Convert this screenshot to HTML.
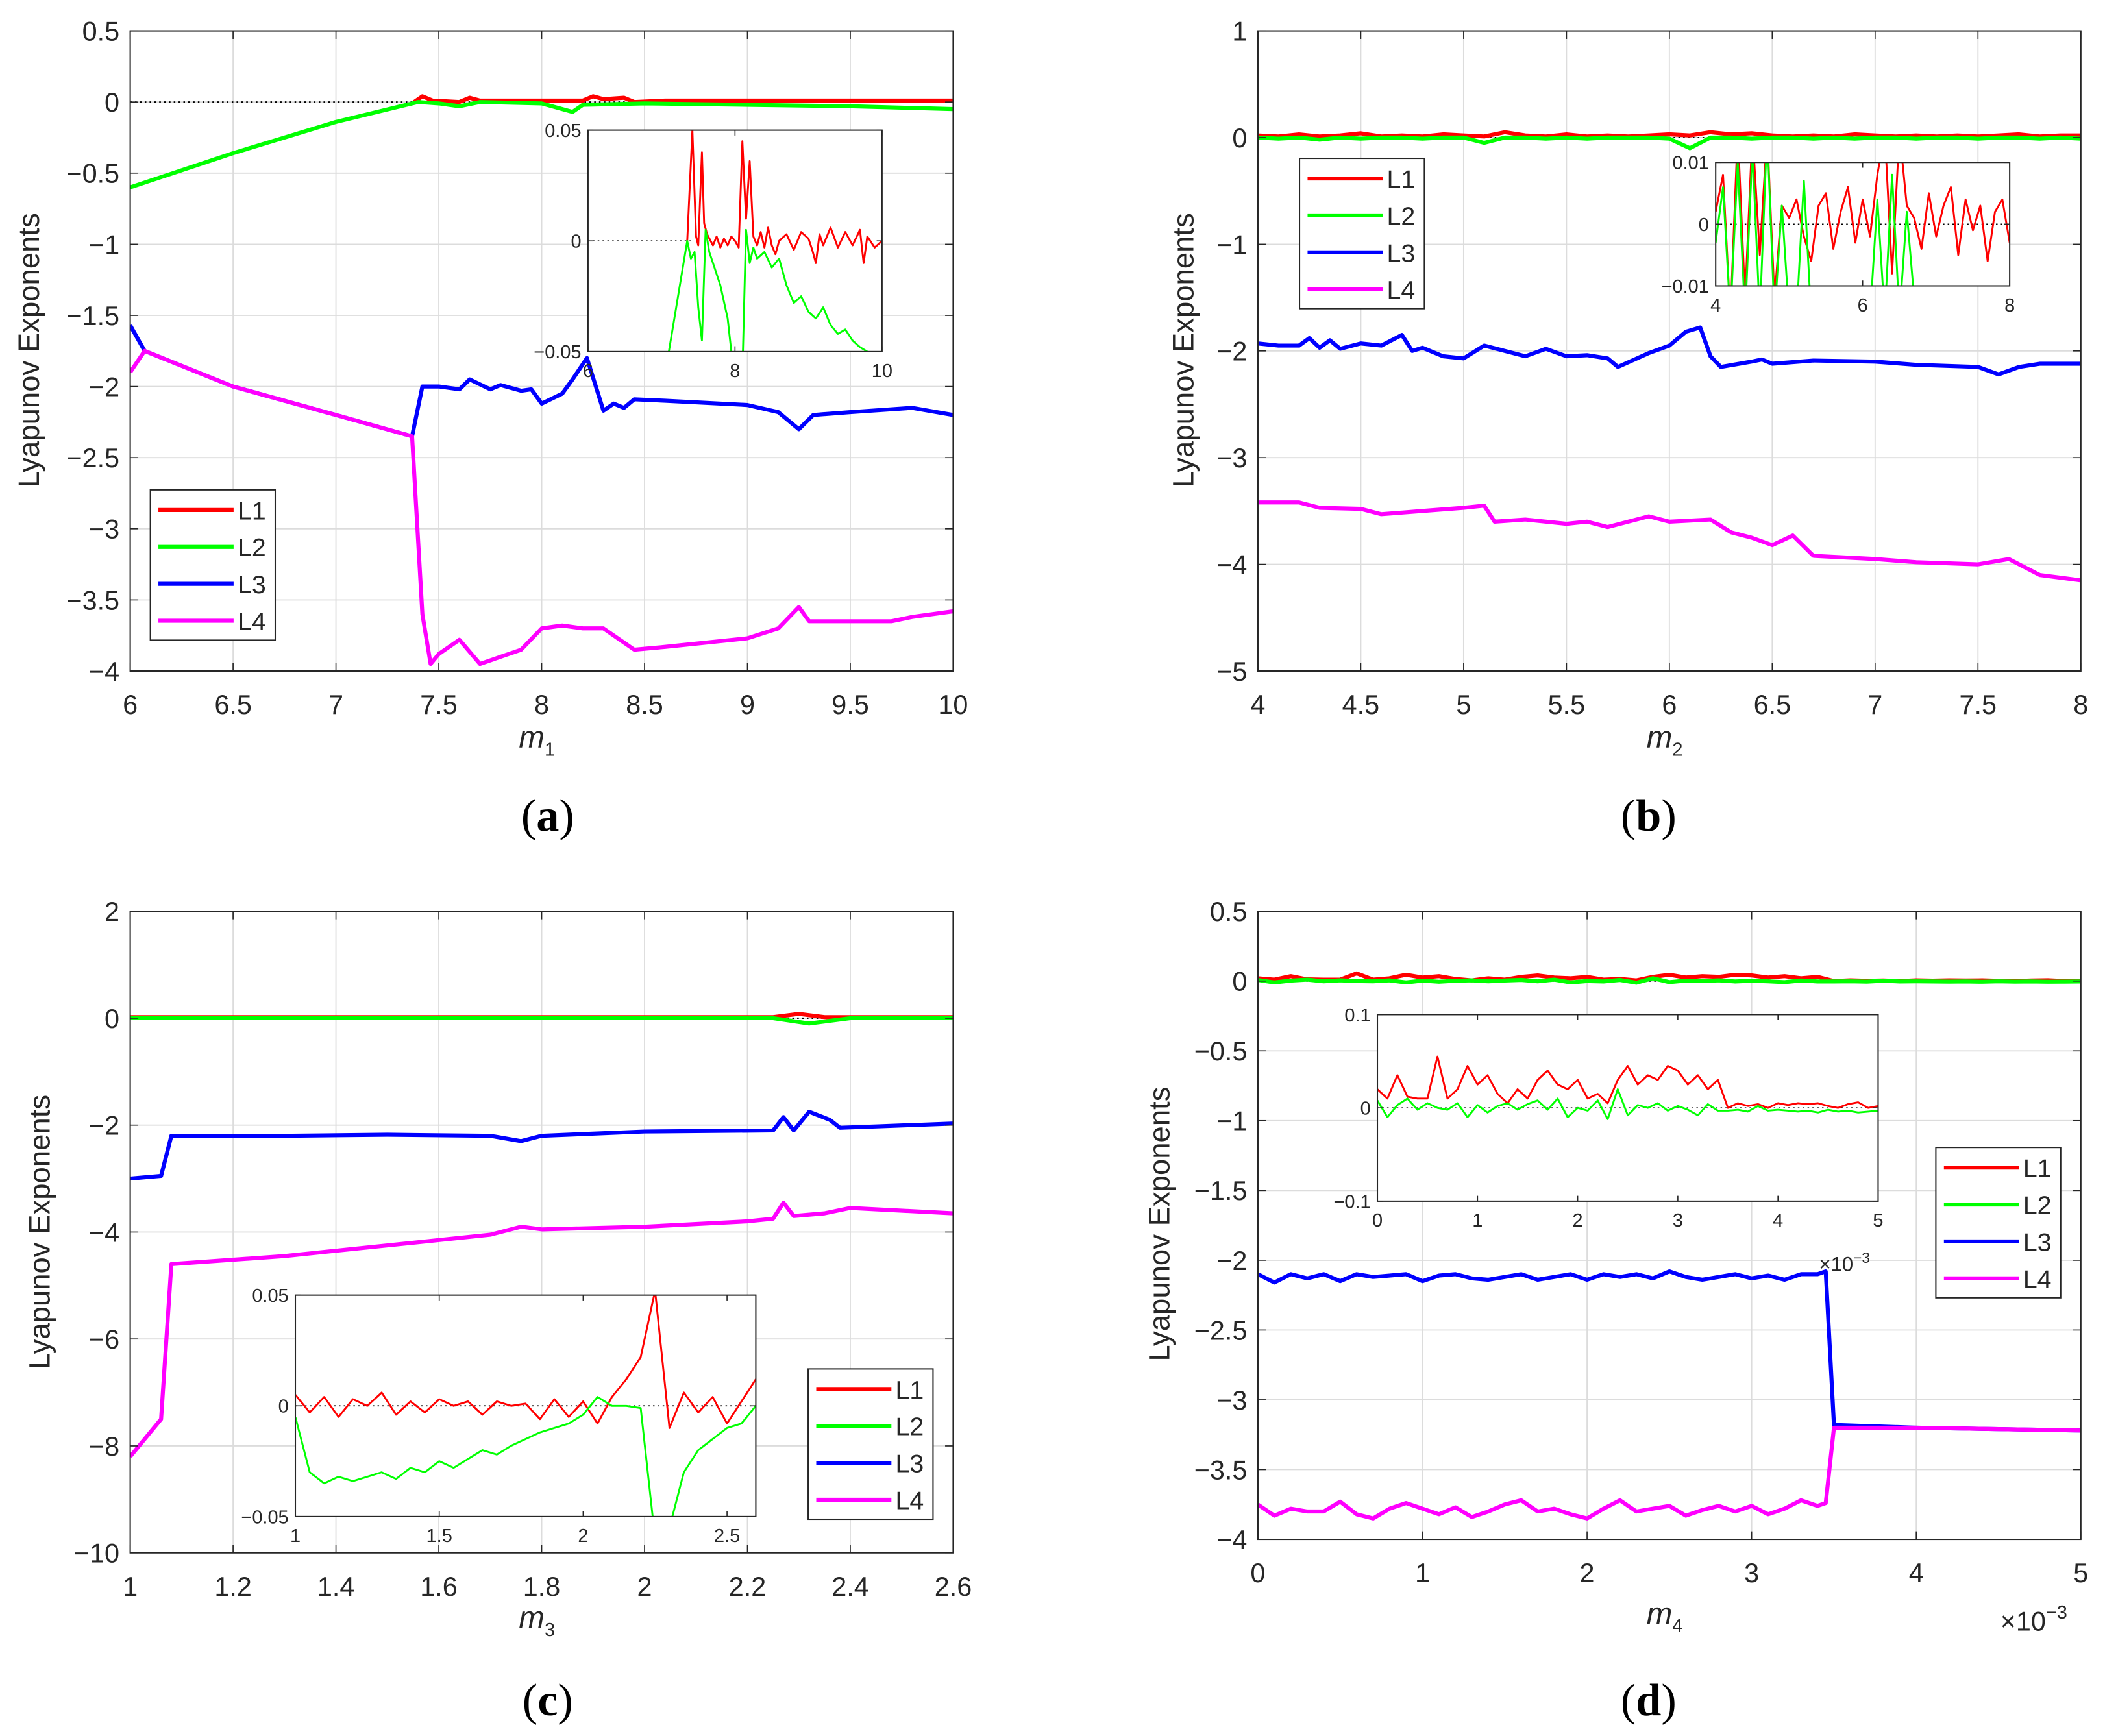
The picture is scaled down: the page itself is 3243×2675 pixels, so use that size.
<!DOCTYPE html>
<html><head><meta charset="utf-8"><style>
html,body{margin:0;padding:0;background:#fff;}
svg{display:block;}
text{font-family:"Liberation Sans",sans-serif;fill:#262626;}
</style></head><body>
<svg id="fig" width="3243" height="2675" viewBox="0 0 1568 1293.5" preserveAspectRatio="none" xmlns="http://www.w3.org/2000/svg"></svg>
<script>
// ---------- Panel (a) data ----------
const a_L1x=[7.38,7.42,7.47,7.6,7.65,7.7,8.0,8.2,8.25,8.3,8.4,8.45,8.6,9.0,10];
const a_L1y=[0,0.04,0.01,0,0.03,0.01,0.01,0.01,0.04,0.02,0.03,0,0.01,0.01,0.01];
const a_L2x=[6,6.5,7,7.4,7.5,7.6,7.7,8.0,8.15,8.2,8.5,9.0,9.5,10];
const a_L2y=[-0.6,-0.36,-0.14,0,-0.01,-0.03,0,-0.01,-0.07,-0.02,-0.01,-0.02,-0.03,-0.05];
const a_L3x=[6,6.07,6.5,7,7.37,7.42,7.5,7.6,7.65,7.75,7.8,7.9,7.95,8.0,8.1,8.15,8.22,8.3,8.35,8.4,8.45,8.6,9.0,9.15,9.25,9.32,9.5,9.8,10];
const a_L3y=[-1.57,-1.75,-2.0,-2.2,-2.35,-2.0,-2.0,-2.02,-1.95,-2.02,-1.99,-2.03,-2.02,-2.12,-2.05,-1.95,-1.8,-2.17,-2.12,-2.15,-2.09,-2.1,-2.13,-2.18,-2.3,-2.2,-2.18,-2.15,-2.2];
const a_L4x=[6,6.07,6.5,7,7.37,7.42,7.46,7.5,7.6,7.7,7.8,7.9,8.0,8.1,8.2,8.3,8.4,8.45,8.6,9.0,9.15,9.25,9.3,9.5,9.7,9.8,10];
const a_L4y=[-1.9,-1.75,-2.0,-2.2,-2.35,-3.6,-3.95,-3.88,-3.78,-3.95,-3.9,-3.85,-3.7,-3.68,-3.7,-3.7,-3.8,-3.85,-3.83,-3.77,-3.7,-3.55,-3.65,-3.65,-3.65,-3.62,-3.58];
const a_in1x=[7.35,7.42,7.47,7.5,7.55,7.58,7.62,7.7,7.75,7.8,7.85,7.9,7.95,8.0,8.05,8.1,8.15,8.2,8.25,8.3,8.35,8.4,8.45,8.5,8.55,8.6,8.7,8.8,8.9,9.0,9.05,9.1,9.15,9.2,9.3,9.4,9.5,9.6,9.7,9.75,9.8,9.9,10];
const a_in1y=[0,0.05,0.002,-0.002,0.04,0.008,0.003,-0.002,0.002,-0.003,0.001,-0.002,0.002,0,-0.003,0.045,0.01,0.036,0.002,-0.002,0.004,-0.003,0.006,-0.002,-0.006,0,0.003,-0.004,0.004,0.001,-0.004,-0.01,0.003,-0.002,0.006,-0.003,0.004,-0.002,0.005,-0.01,0.002,-0.003,0];
const a_in2x=[7.1,7.35,7.4,7.45,7.5,7.55,7.6,7.65,7.7,7.8,7.9,7.95,8.0,8.1,8.15,8.2,8.25,8.3,8.4,8.5,8.6,8.7,8.8,8.9,9.0,9.1,9.2,9.3,9.4,9.5,9.6,9.7,9.8,9.9];
const a_in2y=[-0.05,0,-0.008,-0.005,-0.03,-0.045,0.005,-0.005,-0.01,-0.02,-0.035,-0.05,-0.06,-0.06,0.005,-0.01,-0.003,-0.008,-0.005,-0.012,-0.008,-0.02,-0.028,-0.025,-0.032,-0.035,-0.03,-0.038,-0.042,-0.04,-0.045,-0.048,-0.05,-0.052];
// ---------- Panel (b) data ----------
const b_x=[4.0,4.1,4.2,4.3,4.4,4.5,4.6,4.7,4.8,4.9,5.0,5.1,5.2,5.3,5.4,5.5,5.6,5.7,5.8,5.9,6.0,6.1,6.2,6.3,6.4,6.5,6.6,6.7,6.8,6.9,7.0,7.1,7.2,7.3,7.4,7.5,7.6,7.7,7.8,7.9,8.0];
const b_L1=[0.02,0.01,0.03,0.01,0.02,0.04,0.01,0.02,0.01,0.03,0.02,0.01,0.05,0.02,0.01,0.03,0.01,0.02,0.01,0.02,0.03,0.02,0.05,0.03,0.04,0.02,0.01,0.02,0.01,0.03,0.02,0.01,0.02,0.01,0.02,0.01,0.02,0.03,0.01,0.02,0.02];
const b_L2=[0,-0.01,0,-0.02,0,-0.01,0,0,-0.01,0,0,-0.05,0,0,-0.01,0,-0.01,0,0,0,-0.01,-0.1,0,0,-0.01,0,0,-0.01,0,-0.01,0,0,-0.01,0,0,-0.01,0,0,-0.01,0,-0.01];
const b_L3x=[4,4.1,4.2,4.25,4.3,4.35,4.4,4.5,4.6,4.7,4.75,4.8,4.9,5.0,5.1,5.3,5.4,5.5,5.6,5.7,5.75,5.9,6.0,6.08,6.15,6.2,6.25,6.4,6.45,6.5,6.7,7.0,7.2,7.5,7.6,7.7,7.8,8];
const b_L3y=[-1.93,-1.95,-1.95,-1.88,-1.97,-1.9,-1.98,-1.93,-1.95,-1.85,-2.0,-1.97,-2.05,-2.07,-1.95,-2.05,-1.98,-2.05,-2.04,-2.07,-2.15,-2.02,-1.95,-1.82,-1.78,-2.05,-2.15,-2.1,-2.08,-2.12,-2.09,-2.1,-2.13,-2.15,-2.22,-2.15,-2.12,-2.12];
const b_L4x=[4,4.2,4.3,4.5,4.6,4.8,5.0,5.1,5.15,5.3,5.5,5.6,5.7,5.9,6.0,6.2,6.3,6.4,6.5,6.6,6.7,7.0,7.2,7.5,7.65,7.8,8];
const b_L4y=[-3.42,-3.42,-3.47,-3.48,-3.53,-3.5,-3.47,-3.45,-3.6,-3.58,-3.62,-3.6,-3.65,-3.55,-3.6,-3.58,-3.7,-3.75,-3.82,-3.73,-3.92,-3.95,-3.98,-4.0,-3.95,-4.1,-4.15];
const b_in1=[0.002,0.008,-0.015,0.015,-0.012,0.015,-0.005,0.015,-0.012,0.003,0.001,0.004,-0.002,-0.006,0.003,0.005,-0.004,0.002,0.006,-0.003,0.004,-0.002,0.008,0.015,-0.008,0.015,0.003,0.001,-0.004,0.005,-0.002,0.003,0.006,-0.005,0.004,-0.001,0.003,-0.006,0.002,0.004,-0.003];
const b_in2=[-0.003,0.006,-0.015,0.01,-0.015,0.012,-0.015,0.015,-0.015,0.003,-0.015,-0.015,0.007,-0.015,-0.012,-0.015,-0.015,-0.015,-0.015,-0.015,-0.015,-0.015,0.004,-0.015,0.008,-0.015,0.002,-0.012,-0.015,-0.015,-0.015,-0.015,-0.015,-0.015,-0.015,-0.015,-0.015,-0.015,-0.015,-0.015,-0.015];
// ---------- Panel (c) data ----------
const c_L1x=[1,2.25,2.3,2.35,2.6];
const c_L1y=[0.02,0.02,0.08,0.02,0.02];
const c_L2x=[1,2.25,2.32,2.4,2.6];
const c_L2y=[0,0,-0.1,0,0];
const c_L3x=[1,1.06,1.08,1.3,1.5,1.7,1.76,1.8,2.0,2.25,2.27,2.29,2.32,2.36,2.38,2.6];
const c_L3y=[-3.0,-2.95,-2.2,-2.2,-2.18,-2.2,-2.3,-2.2,-2.12,-2.1,-1.85,-2.1,-1.75,-1.9,-2.05,-1.97];
const c_L4x=[1,1.06,1.08,1.3,1.5,1.7,1.76,1.8,2.0,2.2,2.25,2.27,2.29,2.35,2.4,2.6];
const c_L4y=[-8.2,-7.5,-4.6,-4.45,-4.25,-4.05,-3.9,-3.95,-3.9,-3.8,-3.75,-3.45,-3.7,-3.65,-3.55,-3.65];
const c_inx=[1,1.05,1.1,1.15,1.2,1.25,1.3,1.35,1.4,1.45,1.5,1.55,1.6,1.65,1.7,1.75,1.8,1.85,1.9,1.95,2.0,2.05,2.1,2.15,2.2,2.25,2.3,2.35,2.4,2.45,2.5,2.55,2.6];
const c_in1=[0.005,-0.003,0.004,-0.005,0.003,0,0.006,-0.004,0.002,-0.003,0.003,0,0.002,-0.004,0.002,0,0.001,-0.006,0.003,-0.005,0.002,-0.008,0.004,0.012,0.022,0.052,-0.01,0.006,-0.003,0.004,-0.008,0.002,0.012];
const c_in2=[-0.005,-0.03,-0.035,-0.032,-0.034,-0.032,-0.03,-0.033,-0.028,-0.03,-0.025,-0.028,-0.024,-0.02,-0.022,-0.018,-0.015,-0.012,-0.01,-0.008,-0.004,0.004,0,0,-0.001,-0.06,-0.055,-0.03,-0.02,-0.015,-0.01,-0.008,0];
// ---------- Panel (d) data ----------
const d_x=[0,0.1,0.2,0.3,0.4,0.5,0.6,0.7,0.8,0.9,1.0,1.1,1.2,1.3,1.4,1.5,1.6,1.7,1.8,1.9,2.0,2.1,2.2,2.3,2.4,2.5,2.6,2.7,2.8,2.9,3.0,3.1,3.2,3.3,3.4,3.5,3.6,3.7,3.8,3.9,4.0,4.1,4.2,4.3,4.4,4.5,4.6,4.7,4.8,4.9,5.0];
const d_L1=[0.02,0.01,0.035,0.012,0.01,0.01,0.055,0.01,0.02,0.045,0.025,0.035,0.015,0.005,0.02,0.01,0.03,0.04,0.025,0.02,0.03,0.01,0.015,0.005,0.03,0.045,0.025,0.035,0.03,0.045,0.04,0.025,0.035,0.02,0.03,0.0,0.005,0.002,0.004,0.0,0.005,0.003,0.005,0.004,0.005,0.002,0.0,0.004,0.006,0.0,0.002];
const d_L2=[0.008,-0.01,0.003,0.01,-0.002,0.005,0,-0.002,0.005,-0.01,0.003,-0.005,0.002,0.005,-0.002,0.004,0.008,-0.002,0.01,-0.01,0,-0.003,0.008,-0.012,0.02,-0.008,0.003,0,0.005,-0.003,0.002,-0.002,-0.008,0.004,-0.003,-0.003,-0.002,-0.004,0.002,-0.003,-0.002,-0.003,-0.004,-0.003,-0.005,-0.002,-0.004,-0.003,-0.005,-0.004,-0.003];
const d_Lx=[0,0.1,0.2,0.3,0.4,0.5,0.6,0.7,0.8,0.9,1.0,1.1,1.2,1.3,1.4,1.5,1.6,1.7,1.8,1.9,2.0,2.1,2.2,2.3,2.4,2.5,2.6,2.7,2.8,2.9,3.0,3.1,3.2,3.3,3.4,3.45,3.5,4.0,4.5,5.0];
const d_L3=[-2.1,-2.16,-2.1,-2.13,-2.1,-2.15,-2.1,-2.12,-2.11,-2.1,-2.15,-2.11,-2.1,-2.13,-2.14,-2.12,-2.1,-2.14,-2.12,-2.1,-2.14,-2.1,-2.12,-2.1,-2.13,-2.08,-2.12,-2.14,-2.12,-2.1,-2.13,-2.11,-2.14,-2.1,-2.1,-2.08,-3.18,-3.2,-3.21,-3.22];
const d_L4=[-3.75,-3.83,-3.78,-3.8,-3.8,-3.73,-3.82,-3.85,-3.78,-3.74,-3.78,-3.82,-3.77,-3.84,-3.8,-3.75,-3.72,-3.8,-3.78,-3.82,-3.85,-3.78,-3.72,-3.8,-3.78,-3.76,-3.83,-3.79,-3.76,-3.8,-3.76,-3.82,-3.78,-3.72,-3.76,-3.74,-3.2,-3.2,-3.21,-3.22];

const NS='http://www.w3.org/2000/svg';
const fig=document.getElementById('fig');
const COL={L1:'#ff0000',L2:'#00ff00',L3:'#0000ff',L4:'#ff00ff'};
let clipN=0;
function el(tag,attrs,parent){const e=document.createElementNS(NS,tag);for(const k in attrs)e.setAttribute(k,attrs[k]);(parent||fig).appendChild(e);return e;}
function fmt(v){let s=(Math.round(v*1000)/1000).toString();return v<0?'\u2212'+s.slice(1):s;}
function axes(box,xd,yd){
  return {x:v=>box.l+(v-xd[0])/(xd[1]-xd[0])*(box.r-box.l), y:v=>box.b-(v-yd[0])/(yd[1]-yd[0])*(box.b-box.t)};
}
function series(g,sc,xs,ys,color,w,clipId,name){
  let d='';for(let i=0;i<xs.length;i++)d+=(i?'L':'M')+sc.x(xs[i]).toFixed(2)+' '+sc.y(ys[i]).toFixed(2);
  const p=el('path',{d:d,fill:'none',stroke:color,'stroke-width':w,'stroke-linejoin':'round','clip-path':'url(#'+clipId+')'},g);
  
  
}
function panel(cfg){
  const g=el('g',{});
  
  
  const b=cfg.box, sc=axes(b,cfg.xd,cfg.yd), inset=cfg.inset;
  const cid='clip'+(clipN++);
  const cp=el('clipPath',{id:cid},g);el('rect',{x:b.l,y:b.t,width:b.r-b.l,height:b.b-b.t},cp);
  el('rect',{x:b.l,y:b.t,width:b.r-b.l,height:b.b-b.t,fill:'#fff'},g);
  const fs=inset?14:20;
  const tl=inset?4:6;
  if(!inset){
    cfg.xt.forEach(v=>{el('line',{x1:sc.x(v),x2:sc.x(v),y1:b.t,y2:b.b,stroke:'#dcdcdc','stroke-width':0.9},g);});
    cfg.yt.forEach(v=>{el('line',{x1:b.l,x2:b.r,y1:sc.y(v),y2:sc.y(v),stroke:'#dcdcdc','stroke-width':0.9},g);});
  }
  const z=el('line',{x1:sc.x(cfg.zx[0]),x2:sc.x(cfg.zx[1]),y1:sc.y(0),y2:sc.y(0),stroke:'#000','stroke-width':inset?0.8:1,'stroke-dasharray':'1.2 2.4'},g);
  
  
  cfg.series.forEach(s=>series(g,sc,s[0],s[1],COL[s[2]],inset?1.4:3,cid,'series-'+s[2].toLowerCase()));
  el('rect',{x:b.l,y:b.t,width:b.r-b.l,height:b.b-b.t,fill:'none',stroke:'#262626','stroke-width':1},g);
  cfg.xt.forEach(v=>{const x=sc.x(v);el('line',{x1:x,x2:x,y1:b.b,y2:b.b-tl,stroke:'#262626','stroke-width':0.8},g);el('line',{x1:x,x2:x,y1:b.t,y2:b.t+tl,stroke:'#262626','stroke-width':0.8},g);
    const t=el('text',{x:x,y:b.b+(inset?19:32),'font-size':fs,'text-anchor':'middle'},g);t.textContent=fmt(v);
    });
  cfg.yt.forEach(v=>{const y=sc.y(v);el('line',{x1:b.l,x2:b.l+tl,y1:y,y2:y,stroke:'#262626','stroke-width':0.8},g);el('line',{x1:b.r,x2:b.r-tl,y1:y,y2:y,stroke:'#262626','stroke-width':0.8},g);
    const t=el('text',{x:b.l-(inset?5:8),y:y+fs*0.36,'font-size':fs,'text-anchor':'end'},g);t.textContent=fmt(v);
    });
  return g;
}
function legend(x,y,name){
  const g=el('g',{});
  el('rect',{x:x,y:y,width:93,height:112,fill:'#fff',stroke:'#262626','stroke-width':1},g);
  ['L1','L2','L3','L4'].forEach((k,i)=>{const yy=y+15+i*27.5;
    el('line',{x1:x+6,x2:x+62,y1:yy,y2:yy,stroke:COL[k],'stroke-width':3},g);
    const t=el('text',{x:x+65,y:yy+7,'font-size':19},g);t.textContent=k;
    });
}
function text(x,y,s,attrs,name){const t=el('text',Object.assign({x:x,y:y},attrs));t.innerHTML=s;return t;}
function rng(a,b,s){const o=[];for(let v=a;v<=b+1e-9;v+=s)o.push(Math.round(v*1000)/1000);return o;}

panel({name:'panel-a-main',box:{l:97,r:710,t:23,b:500},xd:[6,10],yd:[-4,0.5],xt:rng(6,10,0.5),yt:rng(-4,0.5,0.5),zx:[6,10],
 series:[[a_L1x,a_L1y,'L1'],[a_L2x,a_L2y,'L2'],[a_L3x,a_L3y,'L3'],[a_L4x,a_L4y,'L4']]});
panel({name:'panel-a-inset',inset:true,box:{l:438,r:657,t:97,b:262},xd:[6,10],yd:[-0.05,0.05],xt:[6,8,10],yt:[-0.05,0,0.05],zx:[6,7.4],
 series:[[a_in1x,a_in1y,'L1'],[a_in2x,a_in2y,'L2']]});
legend(112,365,'legend-a');
panel({name:'panel-b-main',box:{l:937,r:1550,t:23,b:500},xd:[4,8],yd:[-5,1],xt:rng(4,8,0.5),yt:rng(-5,1,1),zx:[4,8],
 series:[[b_x,b_L1,'L1'],[b_x,b_L2,'L2'],[b_L3x,b_L3y,'L3'],[b_L4x,b_L4y,'L4']]});
panel({name:'panel-b-inset',inset:true,box:{l:1278,r:1497,t:121,b:213},xd:[4,8],yd:[-0.01,0.01],xt:[4,6,8],yt:[-0.01,0,0.01],zx:[4,8],
 series:[[b_x,b_in1,'L1'],[b_x,b_in2,'L2']]});
legend(968,118,'legend-b');
panel({name:'panel-c-main',box:{l:97,r:710,t:679,b:1157},xd:[1,2.6],yd:[-10,2],xt:rng(1,2.6,0.2),yt:rng(-10,2,2),zx:[1,2.6],
 series:[[c_L1x,c_L1y,'L1'],[c_L2x,c_L2y,'L2'],[c_L3x,c_L3y,'L3'],[c_L4x,c_L4y,'L4']]});
panel({name:'panel-c-inset',inset:true,box:{l:220,r:563,t:965,b:1130},xd:[1,2.6],yd:[-0.05,0.05],xt:[1,1.5,2,2.5],yt:[-0.05,0,0.05],zx:[1,2.6],
 series:[[c_inx,c_in1,'L1'],[c_inx,c_in2,'L2']]});
legend(602,1020,'legend-c');
panel({name:'panel-d-main',box:{l:937,r:1550,t:679,b:1147},xd:[0,5],yd:[-4,0.5],xt:rng(0,5,1),yt:rng(-4,0.5,0.5),zx:[0,5],
 series:[[d_x,d_L1,'L1'],[d_x,d_L2,'L2'],[d_Lx,d_L3,'L3'],[d_Lx,d_L4,'L4']]});
panel({name:'panel-d-inset',inset:true,box:{l:1026,r:1399,t:756,b:895},xd:[0,5],yd:[-0.1,0.1],xt:rng(0,5,1),yt:[-0.1,0,0.1],zx:[0,5],
 series:[[d_x,d_L1,'L1'],[d_x,d_L2,'L2']]});
legend(1442,855,'legend-d');

const yl=[[22,261,'y-axis-title-a'],[882,261,'y-axis-title-b'],[30,918,'y-axis-title-c'],[864,912,'y-axis-title-d']];
yl.forEach(p=>text(0,0,'Lyapunov Exponents',{'font-size':22,'text-anchor':'middle',transform:'translate('+(p[0]+7)+','+p[1]+') rotate(-90)'},p[2]));
text(400,557,'m<tspan font-size="14" dy="6" font-style="normal">1</tspan>',{'font-size':23,'font-style':'italic','text-anchor':'middle'},'x-axis-title-a');
text(1240,557,'m<tspan font-size="14" dy="6" font-style="normal">2</tspan>',{'font-size':23,'font-style':'italic','text-anchor':'middle'},'x-axis-title-b');
text(400,1213,'m<tspan font-size="14" dy="6" font-style="normal">3</tspan>',{'font-size':23,'font-style':'italic','text-anchor':'middle'},'x-axis-title-c');
text(1240,1210,'m<tspan font-size="14" dy="6" font-style="normal">4</tspan>',{'font-size':23,'font-style':'italic','text-anchor':'middle'},'x-axis-title-d');
text(1490,1215,'\u00d710<tspan font-size="14" dy="-9">\u22123</tspan>',{'font-size':20},'x-exponent-d');
text(1355,947,'\u00d710<tspan font-size="11" dy="-6">\u22123</tspan>',{'font-size':15},'x-exponent-d-inset');
const caps=[[408,619,'a'],[1228,619,'b'],[408,1278,'c'],[1228,1278,'d']];
caps.forEach(c=>text(c[0],c[1],'(<tspan font-weight="bold">'+c[2]+'</tspan>)',{'font-size':34,'text-anchor':'middle',style:'font-family:"Liberation Serif",serif;fill:#000'},'caption-'+c[2]));
</script>
</body></html>
